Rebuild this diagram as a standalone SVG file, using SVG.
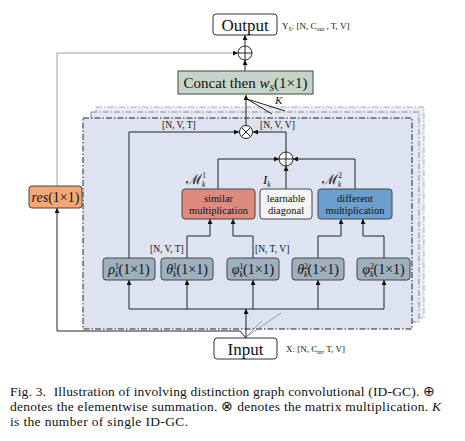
<svg xmlns="http://www.w3.org/2000/svg" width="465" height="441" viewBox="0 0 465 441">
<defs>
<marker id="ah" markerWidth="5" markerHeight="5" refX="5" refY="2.5" orient="auto" markerUnits="userSpaceOnUse">
<path d="M0,0 L5,2.5 L0,5 z" fill="#111"/>
</marker>
<style>
text{font-family:"Liberation Serif","Times New Roman",serif;fill:#111}
.ln{fill:none;stroke:#222;stroke-width:1}
.lg{fill:none;stroke:#888;stroke-width:0.8}
.box{stroke:#444;stroke-width:1}
.lbl{font-size:9.5px}
.bx{font-size:14px}
.mult{font-size:10.5px}
.circ{fill:#fff;stroke:#222;stroke-width:1}
.cal{font-family:"DejaVu Serif","Noto Sans",serif;font-style:italic}
</style>
</defs>
<rect width="465" height="441" fill="#fff"/>

<!-- stacked frames -->
<g id="frames">
<rect x="96" y="107" width="328" height="211" fill="#e9edf7" stroke="#aaa" stroke-width="1" stroke-dasharray="6 2 1.5 2"/>
<rect x="91" y="112" width="328" height="210" fill="#e4e9f5" stroke="#888" stroke-width="1" stroke-dasharray="6 2 1.5 2"/>
<rect x="83" y="118" width="329" height="211" fill="#dde3f1" stroke="#222" stroke-width="1" stroke-dasharray="6 2 1.5 2"/>
</g>

<g id="connectors">
<line class="ln" x1="245" y1="46" x2="245" y2="35" marker-end="url(#ah)"/>
<line class="ln" x1="245" y1="71" x2="245" y2="60" marker-end="url(#ah)"/>
<line class="ln" x1="246" y1="126" x2="246" y2="95" marker-end="url(#ah)"/>
<line class="ln" x1="247" y1="99" x2="285" y2="111"/>
<line class="ln" x1="247" y1="99" x2="272" y2="114"/>
<polyline class="lg" points="57,186 57,53 238,53" marker-end="url(#ah)"/>
<polyline class="ln" points="246,338 240,331 57,331 57,208" marker-end="url(#ah)"/>
<polyline class="ln" points="129,258 129,132 239,132" marker-end="url(#ah)"/>
<polyline class="ln" points="286,152 286,132 253,132" marker-end="url(#ah)"/>
<polyline class="ln" points="218,189 218,159 279,159" marker-end="url(#ah)"/>
<line class="ln" x1="286" y1="189" x2="286" y2="166" marker-end="url(#ah)"/>
<polyline class="ln" points="355,189 355,159 293,159" marker-end="url(#ah)"/>
<polyline class="ln" points="187,258 187,236 210,236 210,219" marker-end="url(#ah)"/>
<polyline class="ln" points="253,258 253,236 233,236 233,219" marker-end="url(#ah)"/>
<polyline class="ln" points="318,258 318,236 341,236 341,219" marker-end="url(#ah)"/>
<polyline class="ln" points="384,258 384,236 363,236 363,219" marker-end="url(#ah)"/>
<line class="ln" x1="129" y1="309" x2="384" y2="309"/>
<line class="ln" x1="129" y1="309" x2="129" y2="280" marker-end="url(#ah)"/>
<line class="ln" x1="187" y1="309" x2="187" y2="280" marker-end="url(#ah)"/>
<line class="ln" x1="253" y1="309" x2="253" y2="280" marker-end="url(#ah)"/>
<line class="ln" x1="318" y1="309" x2="318" y2="280" marker-end="url(#ah)"/>
<line class="ln" x1="384" y1="309" x2="384" y2="280" marker-end="url(#ah)"/>
<line class="ln" x1="246" y1="338" x2="246" y2="309" marker-end="url(#ah)"/>
<line class="lg" x1="246" y1="337" x2="262" y2="321"/>
<line class="lg" x1="246" y1="337" x2="281" y2="313"/>
</g>

<g id="plus1">
<circle class="circ" cx="245" cy="53" r="7"/>
<path class="ln" d="M238,53 H252 M245,46 V60"/>
</g>
<g id="plus2">
<circle class="circ" cx="286" cy="159" r="7"/>
<path class="ln" d="M279,159 H293 M286,152 V166"/>
</g>
<g id="multiply">
<circle class="circ" cx="246" cy="132" r="6.5"/>
<path class="ln" d="M241.4,127.4 L250.6,136.6 M250.6,127.4 L241.4,136.6"/>
</g>

<g id="output">
<rect x="213" y="14" width="64" height="21" rx="3" fill="#fff" stroke="#333"/>
<text x="245" y="30.5" font-size="17" text-anchor="middle">Output</text>
<text x="282" y="29" font-size="9">Y<tspan font-size="6.5" font-style="italic" dy="2">S</tspan><tspan dy="-2">: [N, C</tspan><tspan font-size="6" dy="2">out</tspan><tspan dy="-2"> , T, V]</tspan></text>
</g>

<g id="concat">
<rect class="box" x="178" y="71" width="135" height="23" fill="#c6d5ca"/>
<text x="245.5" y="88" font-size="15" text-anchor="middle">Concat then <tspan font-style="italic">w</tspan><tspan font-size="9" font-style="italic" dy="3">S</tspan><tspan dy="-3">(1×1)</tspan></text>
</g>

<g id="K-label"><text x="275" y="104" font-size="11" font-style="italic">K</text></g>

<g id="res">
<rect class="box" x="29" y="186" width="53" height="22" rx="3" fill="#f3a877"/>
<text x="55.5" y="202" class="bx" text-anchor="middle"><tspan font-style="italic">res</tspan>(1×1)</text>
</g>

<g id="labels">
<text x="162" y="128" class="lbl">[N, V, T]</text>
<text x="260" y="128" class="lbl">[N, V, V]</text>
<text x="150" y="252" class="lbl">[N, V, T]</text>
<text x="255" y="252" class="lbl">[N, T, V]</text>
</g>

<g id="similar">
<rect class="box" x="182" y="189" width="73" height="30" rx="3" fill="#de8b7f"/>
<text x="218.5" y="202" class="mult" text-anchor="middle">similar</text>
<text x="218.5" y="214" class="mult" text-anchor="middle">multiplication</text>
<text x="186" y="184" font-size="14"><tspan class="cal">ℳ</tspan><tspan font-size="7.5" dy="-6">1</tspan><tspan font-size="7.5" font-style="italic" dx="-4" dy="9">k</tspan></text>
</g>
<g id="learnable">
<rect class="box" x="260" y="189" width="52" height="30" rx="3" fill="#f4f4f4"/>
<text x="286" y="202" class="mult" text-anchor="middle">learnable</text>
<text x="286" y="214" class="mult" text-anchor="middle">diagonal</text>
<text x="263" y="184" font-size="13" font-style="italic">I<tspan font-size="7.5" dy="3">k</tspan></text>
</g>
<g id="different">
<rect class="box" x="318" y="189" width="74" height="30" rx="3" fill="#6a9fd0"/>
<text x="355" y="202" class="mult" text-anchor="middle">different</text>
<text x="355" y="214" class="mult" text-anchor="middle">multiplication</text>
<text x="322" y="184" font-size="14"><tspan class="cal">ℳ</tspan><tspan font-size="7.5" dy="-6">2</tspan><tspan font-size="7.5" font-style="italic" dx="-4" dy="9">k</tspan></text>
</g>

<g id="rho1">
<rect class="box" x="103" y="258" width="52" height="22" rx="3" fill="#9eafbe"/>
<text x="129" y="274" class="bx" text-anchor="middle"><tspan font-style="italic">ρ</tspan><tspan font-size="8" dy="-5">1</tspan><tspan font-size="8" font-style="italic" dx="-4" dy="8">k</tspan><tspan dy="-3">(1×1)</tspan></text>
</g>
<g id="theta1">
<rect class="box" x="161" y="258" width="52" height="22" rx="3" fill="#9eafbe"/>
<text x="187" y="274" class="bx" text-anchor="middle"><tspan font-style="italic">θ</tspan><tspan font-size="8" dy="-5">1</tspan><tspan font-size="8" font-style="italic" dx="-4" dy="8">k</tspan><tspan dy="-3">(1×1)</tspan></text>
</g>
<g id="phi1">
<rect class="box" x="227" y="258" width="52" height="22" rx="3" fill="#9eafbe"/>
<text x="253" y="274" class="bx" text-anchor="middle"><tspan font-style="italic">φ</tspan><tspan font-size="8" dy="-5">1</tspan><tspan font-size="8" font-style="italic" dx="-4" dy="8">k</tspan><tspan dy="-3">(1×1)</tspan></text>
</g>
<g id="theta2">
<rect class="box" x="292" y="258" width="52" height="22" rx="3" fill="#9eafbe"/>
<text x="318" y="274" class="bx" text-anchor="middle"><tspan font-style="italic">θ</tspan><tspan font-size="8" dy="-5">2</tspan><tspan font-size="8" font-style="italic" dx="-4" dy="8">k</tspan><tspan dy="-3">(1×1)</tspan></text>
</g>
<g id="phi2">
<rect class="box" x="357" y="258" width="53" height="22" rx="3" fill="#9eafbe"/>
<text x="383.5" y="274" class="bx" text-anchor="middle"><tspan font-style="italic">φ</tspan><tspan font-size="8" dy="-5">2</tspan><tspan font-size="8" font-style="italic" dx="-4" dy="8">k</tspan><tspan dy="-3">(1×1)</tspan></text>
</g>

<g id="input">
<rect x="214" y="338" width="63" height="21" rx="3" fill="#fff" stroke="#333"/>
<text x="245.5" y="355" font-size="17" text-anchor="middle">Input</text>
<text x="286" y="352" font-size="9">X: [N, C<tspan font-size="6" dy="2">in</tspan><tspan dy="-2">, T, V]</tspan></text>
</g>

<g id="caption">
<text x="10" y="396" font-size="13.5" textLength="425" lengthAdjust="spacing">Fig. 3. <tspan dx="4">Illustration of involving distinction graph convolutional (ID-GC). ⊕</tspan></text>
<text x="10" y="411" font-size="13.5" textLength="431" lengthAdjust="spacing">denotes the elementwise summation. ⊗ denotes the matrix multiplication. <tspan font-style="italic">K</tspan></text>
<text x="10" y="426" font-size="13.5" textLength="178" lengthAdjust="spacing">is the number of single ID-GC.</text>
</g>
</svg>
